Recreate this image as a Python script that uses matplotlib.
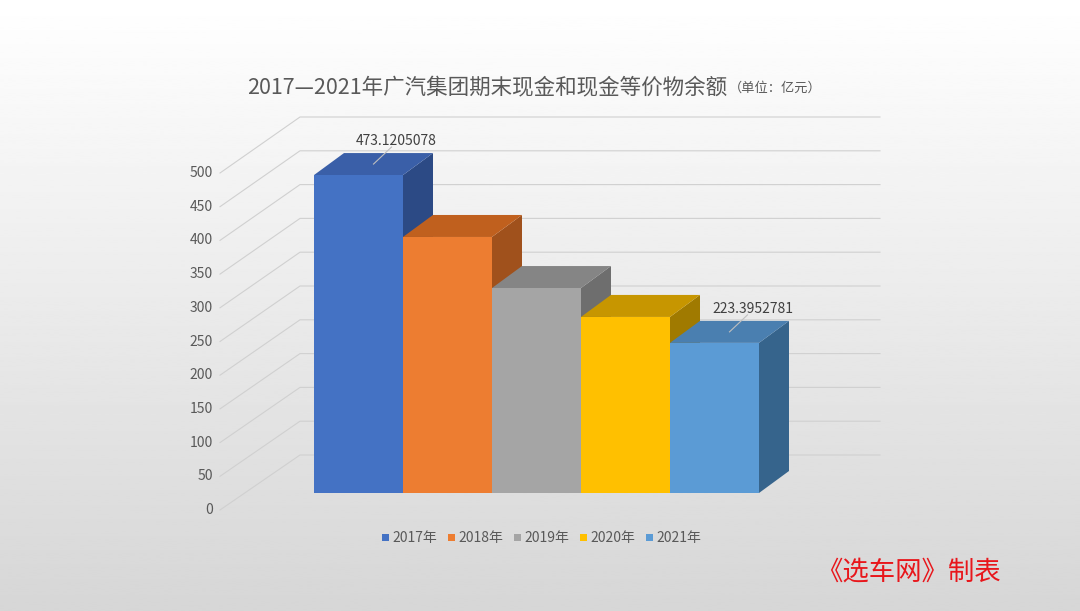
import numpy as np
import matplotlib.pyplot as plt
from matplotlib.patches import Polygon, Rectangle

plt.rcParams['font.family'] = ['Noto Sans CJK SC', 'DejaVu Sans']

years = ['2017年', '2018年', '2019年', '2020年', '2021年']
values = [473.1205078, 381.0, 305.0, 262.0, 223.3952781]
labels = ['473.1205078', '', '', '', '223.3952781']
ticks = list(range(0, 501, 50))
front = ['#4472C4', '#ED7D31', '#A5A5A5', '#FFC000', '#5B9BD5']
top = ['#3A5FA8', '#C0601E', '#858585', '#C79600', '#4A7FB0']
side = ['#2C4A85', '#A0511C', '#6E6E6E', '#A07A00', '#36648C']

W, H = 1080, 611
fig = plt.figure(figsize=(W / 100, H / 100), dpi=100)
ax = fig.add_axes([0, 0, 1, 1])
ax.set_xlim(0, W)
ax.set_ylim(H, 0)
ax.axis('off')

# background gradient
grad = np.linspace(1, 0.84, 256).reshape(-1, 1)
ax.imshow(grad, cmap='gray', vmin=0, vmax=1, extent=[0, W, H, 0], aspect='auto', zorder=0)

# scales
k = 0.672
base_front = 493
def fy(v):
    return base_front - v * k

# back wall gridlines and tick labels
for t in ticks:
    yb = 455 - t * 0.676
    yl = 510 - t * 0.674
    ax.plot([220, 300, 880], [yl, yb, yb], color='#d0d0d0', lw=0.8, zorder=1)
    ax.text(213, yl, str(t), ha='right', va='center', fontsize=10, color='#595959')

bw, dx, dy = 89, 30, 22
x0 = 314
for i, v in enumerate(values):
    xl = x0 + i * bw
    yt = fy(v)
    ax.add_patch(Polygon([[xl + bw, yt], [xl + bw + dx, yt - dy], [xl + bw + dx, base_front - dy],
                          [xl + bw, base_front]], closed=True, fc=side[i], ec='none', zorder=2 + i))
    ax.add_patch(Polygon([[xl, yt], [xl + dx, yt - dy], [xl + bw + dx, yt - dy], [xl + bw, yt]],
                         closed=True, fc=top[i], ec='none', zorder=2 + i))
    ax.add_patch(Rectangle((xl, yt), bw, base_front - yt, fc=front[i], ec='none', zorder=2 + i))
    if labels[i]:
        lx, ly = xl + bw / 2 + 38, yt - 34
        ax.plot([xl + bw / 2 + 15, lx - 5], [yt - dy / 2, ly + 6], color='#bfbfbf', lw=0.8, zorder=10)
        ax.text(lx, ly, labels[i], ha='center', va='center', fontsize=10, color='#404040', zorder=10)

# title
ax.text(727, 87, '2017—2021年广汽集团期末现金和现金等价物余额', ha='right', va='center',
        fontsize=15.5, color='#595959', fontweight='medium')
ax.text(729, 88, '（单位：亿元）', ha='left', va='center', fontsize=9.5, color='#595959')

# legend
lx = 382
for i, y in enumerate(years):
    ax.add_patch(Rectangle((lx + i * 66, 534), 7, 7, fc=front[i], ec='none'))
    ax.text(lx + i * 66 + 10, 538, y, ha='left', va='center', fontsize=10, color='#595959')

ax.text(908, 572, '《选车网》制表', ha='center', va='center', fontsize=19, color='#e8161b')

fig.savefig('out.png', dpi=100)
